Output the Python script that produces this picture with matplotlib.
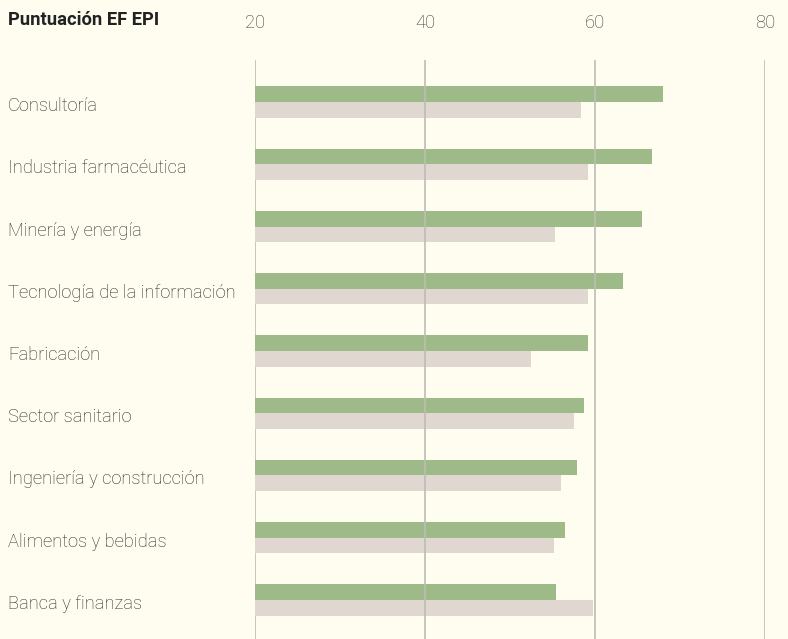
import numpy as np
import matplotlib.pyplot as plt
from matplotlib.transforms import ScaledTranslation

# datos
categorias = ["Consultoría", "Industria farmacéutica", "Minería y energía",
              "Tecnología de la información", "Fabricación", "Sector sanitario",
              "Ingeniería y construcción", "Alimentos y bebidas", "Banca y finanzas"]
serie_verde = [68.0, 66.7, 65.5, 63.3, 59.2, 58.7, 57.9, 56.5, 55.4]
serie_beige = [58.4, 59.2, 55.3, 59.2, 52.5, 57.5, 56.0, 55.2, 59.8]
ticks_x = [20, 40, 60, 80]

FONDO = "#FEFDF0"
VERDE = "#9DBA88"
BEIGE = "#E0D8D0"
GRID = "#BDBDB5"
FUENTE = "Roboto"

fig = plt.figure(figsize=(7.88, 6.39), dpi=100, facecolor=FONDO)
W, H = 788, 639
ax = fig.add_axes([255 / W, 0, (765 - 255) / W, (639 - 60) / H], facecolor=FONDO)

y = np.arange(len(categorias))
h = 0.25
ax.barh(y - h / 2, np.array(serie_verde) - 20, left=20, height=h, color=VERDE, zorder=2)
ax.barh(y + h / 2, np.array(serie_beige) - 20, left=20, height=h, color=BEIGE, zorder=2)

ax.set_xlim(20, 80)
ax.set_ylim(8.627, -0.675)

for xv in ticks_x:
    ax.axvline(xv, color=GRID, lw=1.2, zorder=3 if xv > 20 else 1)

ax.xaxis.tick_top()
ax.set_xticks(ticks_x)
ax.set_xticklabels([str(t) for t in ticks_x], fontname=FUENTE, fontweight="light",
                   fontsize=13.2, color="#3a3a3a")
ax.tick_params(axis="x", length=0, pad=20.5)

ax.set_yticks(y)
ax.set_yticklabels(categorias, fontname=FUENTE, fontweight="light",
                   fontsize=13.2, color="#2a2a2a")
ax.tick_params(axis="y", length=0, pad=(255 - 8) * 72 / 100)
bajar = ScaledTranslation(0, -2 / 100, fig.dpi_scale_trans)
for lab in ax.get_yticklabels():
    lab.set_ha("left")
    lab.set_va("center_baseline")
    lab.set_transform(lab.get_transform() + bajar)

for s in ax.spines.values():
    s.set_visible(False)

fig.text(8 / W, 1 - 20 / H, "Puntuación EF EPI", fontname=FUENTE, fontweight="bold",
         fontsize=13.2, color="#222222", va="center", ha="left")

fig.savefig("out.png", dpi=100, facecolor=FONDO)
